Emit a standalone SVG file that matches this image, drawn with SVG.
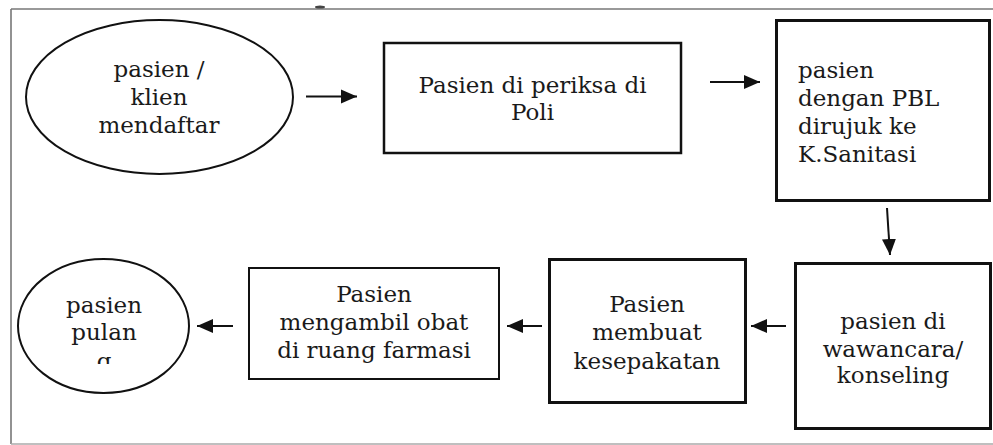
<svg xmlns="http://www.w3.org/2000/svg" width="993" height="445" viewBox="0 0 993 445">
<style>
  .t { font-family: "DejaVu Serif", "Liberation Serif", serif; font-size: 23px; fill: #1a1a1a; }
  .c { text-anchor: middle; }
  .shape { fill: #fff; stroke: #111; }
  .conn { stroke: #111; stroke-width: 2; fill: none; marker-end: url(#ah); }
  .frame { stroke: #777; stroke-width: 1.6; fill: none; }
</style>
<defs>
  <marker id="ah" markerUnits="userSpaceOnUse" markerWidth="17" markerHeight="15" refX="16" refY="7.5" orient="auto">
    <path d="M0,0.5 L16,7.5 L0,14.5 z" fill="#111"/>
  </marker>
  <clipPath id="clipEnd"><rect x="0" y="250" width="300" height="114"/></clipPath>
</defs>
<rect width="993" height="445" fill="#fff"/>
<g id="frame">
  <line class="frame" x1="11" y1="9" x2="993" y2="9"/>
  <line class="frame" x1="11" y1="9" x2="11" y2="444"/>
  <line x1="11" y1="444" x2="993" y2="444" stroke="#aaa" stroke-width="1.4"/>
  <ellipse cx="320" cy="7" rx="5" ry="1.5" fill="#444"/>
</g>
<g id="n1">
  <ellipse class="shape" cx="159.5" cy="97" rx="133.5" ry="77" stroke-width="2"/>
  <text class="t c" x="159" y="77">pasien /</text>
  <text class="t c" x="159" y="105">klien</text>
  <text class="t c" x="159" y="133">mendaftar</text>
</g>
<g id="n2">
  <rect class="shape" x="384" y="43" width="297" height="110" stroke-width="2.5"/>
  <text class="t c" x="532.5" y="93">Pasien di periksa di</text>
  <text class="t c" x="532.5" y="120">Poli</text>
</g>
<g id="n3">
  <rect class="shape" x="776.5" y="20.5" width="213" height="180" stroke-width="3"/>
  <text class="t" x="798" y="78">pasien</text>
  <text class="t" x="798" y="106">dengan PBL</text>
  <text class="t" x="798" y="134">dirujuk ke</text>
  <text class="t" x="798" y="162">K.Sanitasi</text>
</g>
<g id="n4">
  <rect class="shape" x="795.5" y="263.5" width="195" height="165" stroke-width="3"/>
  <text class="t c" x="893" y="329">pasien di</text>
  <text class="t c" x="893" y="357">wawancara/</text>
  <text class="t c" x="893" y="383">konseling</text>
</g>
<g id="n5">
  <rect class="shape" x="549.5" y="259.5" width="196" height="143" stroke-width="3"/>
  <text class="t c" x="647" y="312">Pasien</text>
  <text class="t c" x="647" y="340">membuat</text>
  <text class="t c" x="647" y="369">kesepakatan</text>
</g>
<g id="n6">
  <rect class="shape" x="249" y="268" width="250" height="111" stroke-width="2"/>
  <text class="t c" x="374" y="302">Pasien</text>
  <text class="t c" x="374" y="330">mengambil obat</text>
  <text class="t c" x="374" y="358">di ruang farmasi</text>
</g>
<g id="n7">
  <ellipse class="shape" cx="103.5" cy="326" rx="85.5" ry="67" stroke-width="2"/>
  <g clip-path="url(#clipEnd)">
    <text class="t c" x="104" y="313">pasien</text>
    <text class="t c" x="104" y="340">pulan</text>
    <text class="t c" x="104" y="369">g</text>
  </g>
</g>
<g id="connectors">
  <line class="conn" x1="306" y1="96.5" x2="357" y2="96.5"/>
  <line class="conn" x1="710" y1="82" x2="760" y2="82"/>
  <line class="conn" x1="887" y1="208" x2="890" y2="255"/>
  <line class="conn" x1="786" y1="326" x2="751" y2="326"/>
  <line class="conn" x1="542" y1="326" x2="507" y2="326"/>
  <line class="conn" x1="233" y1="326" x2="197" y2="326"/>
</g>
</svg>
